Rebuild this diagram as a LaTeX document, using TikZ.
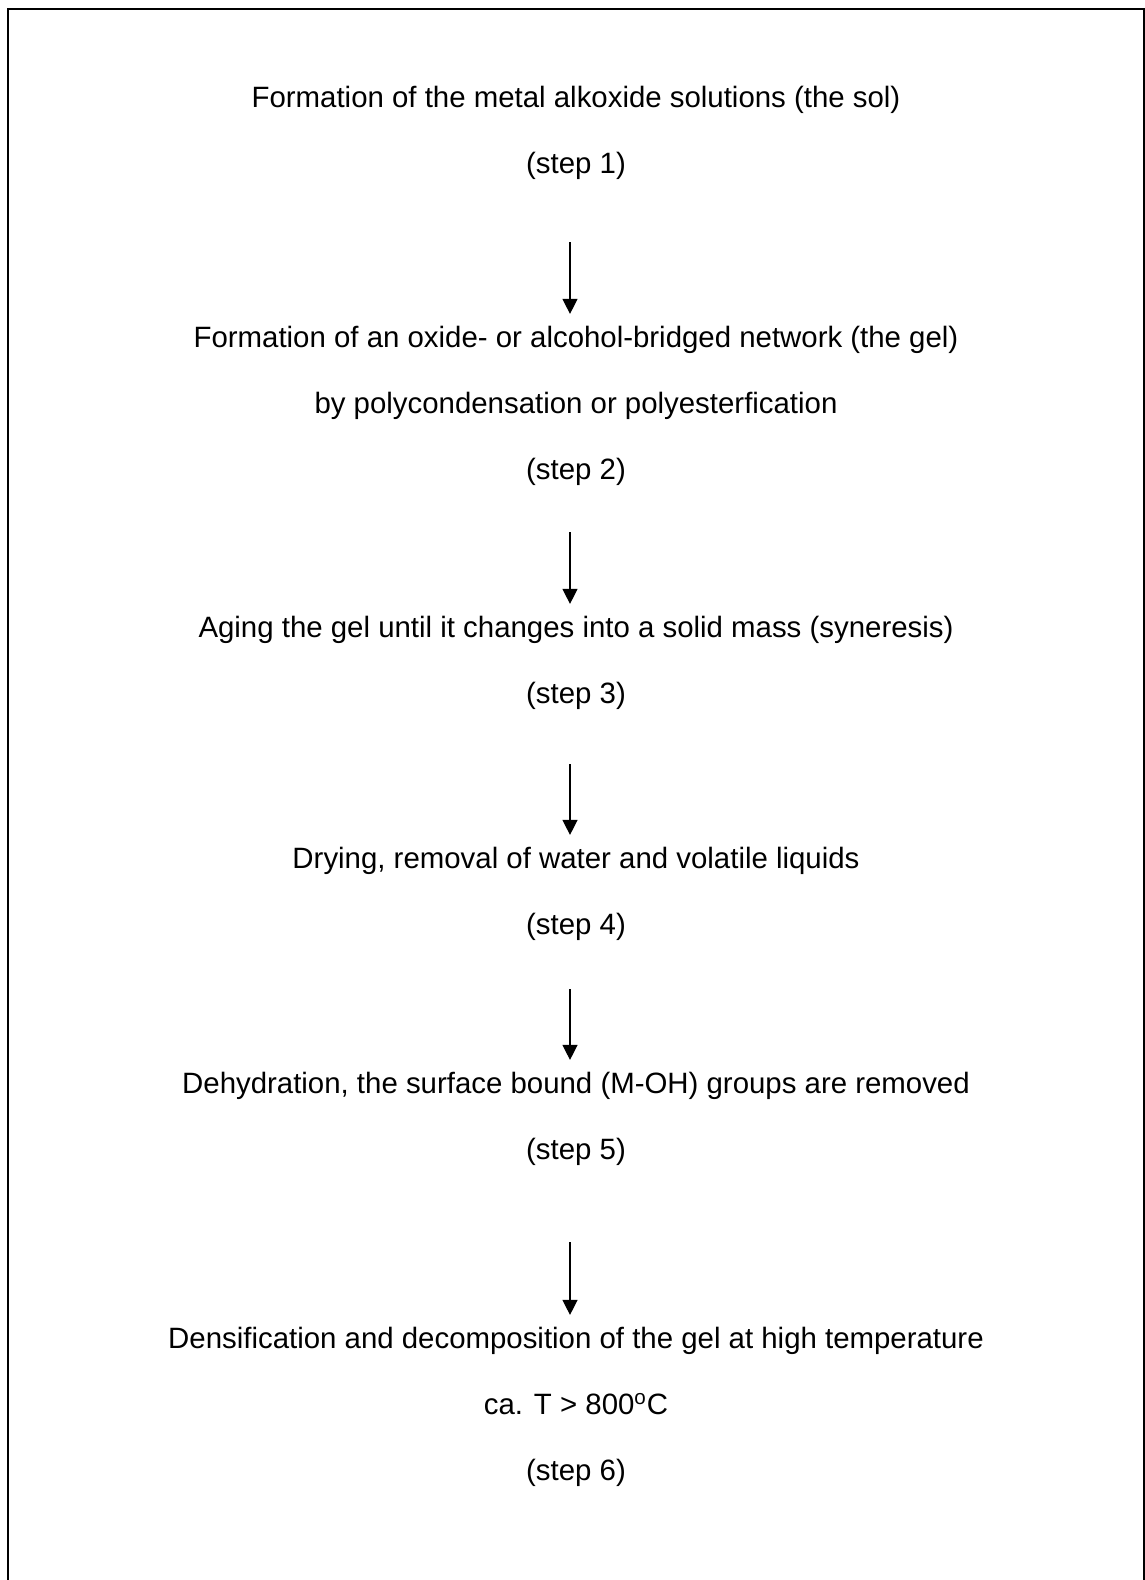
\documentclass[tikz,border=0pt]{standalone}
\usepackage{fontspec}
\setmainfont{Liberation Sans}
\usepackage{tikz}
\usetikzlibrary{arrows.meta,positioning}

\begin{document}
\begin{tikzpicture}[x=0.5pt,y=-0.5pt,>={Triangle[width=7.5pt,length=7.5pt]},
  steptext/.style={align=center,inner sep=0pt,font=\fontsize{14.7pt}{33pt}\selectfont},
  flowarrow/.style={->,line width=0.65pt,shorten >=6pt}]
  \useasboundingbox (0,0) rectangle (1145,1580);
  \draw[line width=1pt] (8,1580) -- (8,9) -- (1143.5,9) -- (1143.5,1580);
  % the six steps
  \node[steptext] (s1) at (576,133) {Formation of the metal alkoxide solutions (the sol)\\(step 1)};
  \node[steptext] (s2) at (576,406) {Formation of an oxide- or alcohol-bridged network (the gel)\\by polycondensation or polyesterfication\\(step 2)};
  \node[steptext] (s3) at (576,663) {Aging the gel until it changes into a solid mass (syneresis)\\(step 3)};
  \node[steptext] (s4) at (576,894) {Drying, removal of water and volatile liquids\\(step 4)};
  \node[steptext] (s5) at (576,1119) {Dehydration, the surface bound (M-OH) groups are removed\\(step 5)};
  \node[steptext] (s6) at (576,1407) {Densification and decomposition of the gel at high temperature\\ca. T > 800\textsuperscript{o}C\\(step 6)};
  % arrows
  \coordinate (t1) at (570,242);
  \coordinate (t2) at (570,532);
  \coordinate (t3) at (570,764);
  \coordinate (t4) at (570,989);
  \coordinate (t5) at (570,1242);
  \draw[flowarrow] (t1) -- (t1 |- s2.north);
  \draw[flowarrow] (t2) -- (t2 |- s3.north);
  \draw[flowarrow] (t3) -- (t3 |- s4.north);
  \draw[flowarrow] (t4) -- (t4 |- s5.north);
  \draw[flowarrow] (t5) -- (t5 |- s6.north);
\end{tikzpicture}
\end{document}
